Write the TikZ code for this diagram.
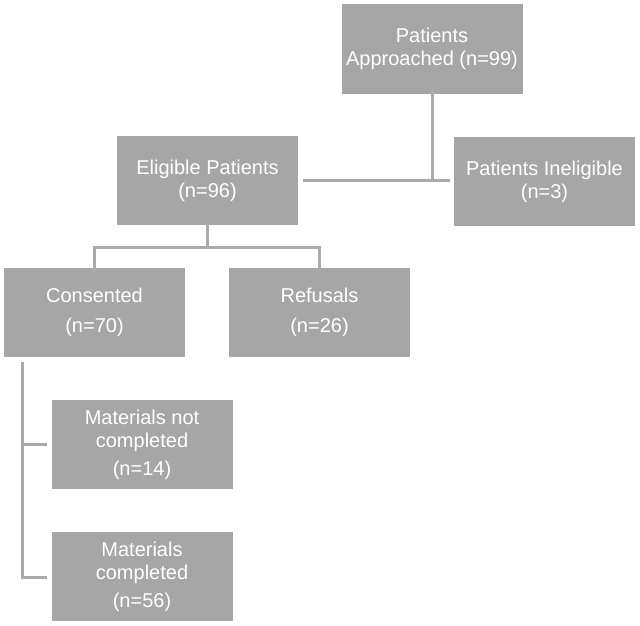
\documentclass[tikz,border=0pt]{standalone}
\usepackage{fontspec}
\setmainfont{Liberation Sans}
\definecolor{boxgray}{RGB}{166,166,166}
\definecolor{linegray}{RGB}{170,170,170}
\begin{document}
\begin{tikzpicture}[x=1pt,y=-1pt,
  box/.style={fill=boxgray,draw=none,text=white,minimum width=181pt,minimum height=89pt,inner sep=0pt,align=center,font=\fontsize{20}{23}\selectfont},
  conn/.style={draw=linegray,line width=3pt}]
\useasboundingbox (0,0) rectangle (640,626);
\node[box] (app) at (432,49) {Patients\\Approached (n=99)};
\node[box] (elig) at (207.5,180.5) {Eligible Patients\\(n=96)};
\node[box] (inel) at (544.5,181.5) {Patients Ineligible\\(n=3)};
\node[box] (cons) at (94.5,312.5) {Consented\\[7pt](n=70)};
\node[box] (ref) at (319.5,312.5) {Refusals\\[7pt](n=26)};
\node[box] (mnc) at (142,444.5) {Materials not\\completed\\[5pt](n=14)};
\node[box] (mc) at (142,576.5) {Materials\\completed\\[5pt](n=56)};
% approached -> eligible / ineligible
\coordinate (j1) at (app.south |- 0,180);
\draw[conn] ([yshift=4pt]app.south) -- (j1);
\draw[conn] ([xshift=5pt]elig.east |- j1) -- ([xshift=-4pt]inel.west |- j1);
% eligible -> consented / refusals
\coordinate (j2) at (elig.south |- 0,247);
\draw[conn] ([yshift=4pt]elig.south) -- (j2);
\draw[conn] ([yshift=-5pt]cons.north) |- (j2) -| ([yshift=-5pt]ref.north);
% consented -> materials
\coordinate (c1) at (22,362);
\coordinate (c2) at (22,577);
\draw[conn] (c1) -- (c2) -- ([xshift=-4pt]mc.west |- c2);
\draw[conn] (c1 |- mnc.west) -- ([xshift=-4pt]mnc.west);
\end{tikzpicture}
\end{document}
